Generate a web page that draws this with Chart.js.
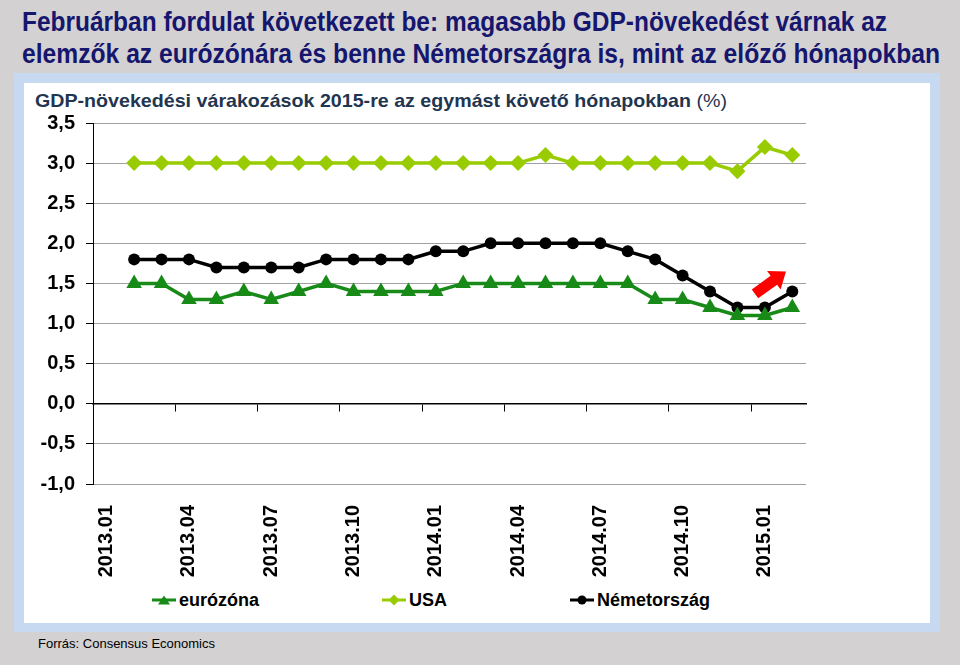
<!DOCTYPE html>
<html>
<head>
<meta charset="utf-8">
<script src="https://cdn.jsdelivr.net/npm/chart.js@4.4.1/dist/chart.umd.min.js"></script>
<style>
  html, body { margin: 0; padding: 0; }
  body { width: 960px; height: 665px; background: #d3d1d1; position: relative; overflow: hidden; font-family: "Liberation Sans", Arial, sans-serif; }
  .title { position: absolute; left: 22px; font-weight: bold; font-size: 27px; line-height: 32px; color: #15166e; white-space: nowrap; transform-origin: 0 0; font-family: "Liberation Sans Narrow", "Liberation Sans", Arial, sans-serif; }
  #frame { position: absolute; left: 14px; top: 73px; width: 926px; height: 559px; background: #c6d9f1; }
  #inner { position: absolute; left: 24px; top: 83px; width: 906px; height: 540px; background: #ffffff; }
  #subtitle { position: absolute; left: 35px; top: 90px; font-size: 19px; line-height: 22px; color: #1f3550; white-space: nowrap; transform-origin: 0 0; }
  #subtitle b { font-weight: bold; }
  #chartWrap { position: absolute; left: 24px; top: 110px; width: 906px; height: 475px; }
  #legend { position: absolute; left: 152px; top: 588px; display: flex; gap: 123px; align-items: center; font-weight: bold; font-size: 18px; line-height: 24px; color: #000; }
  .item { display: flex; align-items: center; white-space: nowrap; }
  .item svg { margin-right: 3px; }
  #source { position: absolute; left: 38px; top: 636px; font-size: 13px; line-height: 16px; color: #000; white-space: nowrap; }
</style>
</head>
<body>
<div class="title" id="t1" style="top:6px">Februárban fordulat következett be: magasabb GDP-növekedést várnak az</div>
<div class="title" id="t2" style="top:38px">elemzők az eurózónára és benne Németországra is, mint az előző hónapokban</div>
<div id="frame"></div>
<div id="inner"></div>
<div id="subtitle"><b>GDP-növekedési várakozások 2015-re az egymást követő hónapokban</b> (%)</div>
<div id="chartWrap"><canvas id="c" width="906" height="475"></canvas></div>
<div id="legend"></div>
<div id="source">Forrás: Consensus Economics</div>
<script>
// ---- data ----
const months = ['2013.01','2013.02','2013.03','2013.04','2013.05','2013.06','2013.07','2013.08','2013.09','2013.10','2013.11','2013.12',
                '2014.01','2014.02','2014.03','2014.04','2014.05','2014.06','2014.07','2014.08','2014.09','2014.10','2014.11','2014.12',
                '2015.01','2015.02'];
const eurozone = [null, 1.5,1.5,1.3,1.3,1.4,1.3,1.4,1.5,1.4,1.4,1.4,1.4,1.5,1.5,1.5,1.5,1.5,1.5,1.5,1.3,1.3,1.2,1.1,1.1,1.2];
const usa      = [null, 3.0,3.0,3.0,3.0,3.0,3.0,3.0,3.0,3.0,3.0,3.0,3.0,3.0,3.0,3.0,3.1,3.0,3.0,3.0,3.0,3.0,3.0,2.9,3.2,3.1];
const germany  = [null, 1.8,1.8,1.8,1.7,1.7,1.7,1.7,1.8,1.8,1.8,1.8,1.9,1.9,2.0,2.0,2.0,2.0,2.0,1.9,1.8,1.6,1.4,1.2,1.2,1.4];
const seriesNames = ['eurózóna', 'USA', 'Németország'];
const yTicks = [-1.0, -0.5, 0.0, 0.5, 1.0, 1.5, 2.0, 2.5, 3.0, 3.5];
// red arrow annotation (category index, value)
const arrowFrom = [23.64, 1.37];
const arrowTo   = [24.77, 1.65];

const colors = ['#178a17', '#99cc00', '#000000'];
const pointStyles = ['triangle', 'rectRot', 'circle'];
const radii = [9, 8, 6];

// fit title widths
function fitWidth(id, w) {
  const el = document.getElementById(id);
  const cur = el.getBoundingClientRect().width;
  el.style.transform = 'scaleX(' + (w / cur) + ')';
}
fitWidth('t1', 865);
fitWidth('t2', 918);
fitWidth('subtitle', 692);

const arrowPlugin = {
  id: 'arrowPlugin',
  afterDatasetsDraw(chart) {
    const xs = chart.scales.x, ys = chart.scales.y;
    const x0 = xs.getPixelForValue(arrowFrom[0]), y0 = ys.getPixelForValue(arrowFrom[1]);
    const x1 = xs.getPixelForValue(arrowTo[0]), y1 = ys.getPixelForValue(arrowTo[1]);
    const len = Math.hypot(x1 - x0, y1 - y0);
    const ang = Math.atan2(y1 - y0, x1 - x0);
    const ctx = chart.ctx;
    const sw = 5.5, hw = 11.5, hl = 15;
    ctx.save();
    ctx.translate(x0, y0);
    ctx.rotate(ang);
    ctx.beginPath();
    ctx.moveTo(0, -sw);
    ctx.lineTo(len - hl, -sw);
    ctx.lineTo(len - hl, -hw);
    ctx.lineTo(len, 0);
    ctx.lineTo(len - hl, hw);
    ctx.lineTo(len - hl, sw);
    ctx.lineTo(0, sw);
    ctx.closePath();
    ctx.fillStyle = '#ff0000';
    ctx.fill();
    ctx.restore();
  }
};

const dataSets = [eurozone, usa, germany].map((d, i) => ({
  label: seriesNames[i],
  data: d,
  borderColor: colors[i],
  backgroundColor: colors[i],
  borderWidth: 3.5,
  pointStyle: pointStyles[i],
  pointRadius: radii[i],
  pointBorderWidth: 0,
  pointBackgroundColor: colors[i],
  tension: 0,
  xAxisID: 'x',
  yAxisID: 'y'
}));

new Chart(document.getElementById('c'), {
  type: 'line',
  data: { labels: months, datasets: dataSets },
  plugins: [arrowPlugin],
  options: {
    responsive: false,
    animation: false,
    layout: { padding: { left: 7, top: 13, right: 124, bottom: 0 } },
    plugins: { legend: { display: false }, tooltip: { enabled: false } },
    scales: {
      x: {
        type: 'category',
        position: 'bottom',
        offset: true,
        grid: { display: false },
        border: { display: false },
        ticks: {
          autoSkip: false,
          minRotation: 90,
          maxRotation: 90,
          padding: 13,
          color: '#000',
          font: { family: '"Liberation Sans", Arial, sans-serif', size: 20, weight: 'bold' },
          callback: (v, i) => (i % 3 === 0 ? months[i] : '')
        },
        afterFit: (s) => { s.height = 101; }
      },
      x2: {
        type: 'category',
        labels: months,
        position: { y: 0 },
        offset: true,
        grid: {
          offset: true,
          drawOnChartArea: false,
          drawTicks: true,
          tickLength: 7,
          color: '#000',
          tickColor: '#000',
          lineWidth: (c) => (c.index % 3 === 0 ? 1 : 0),
          tickWidth: (c) => (c.index % 3 === 0 ? 1 : 0)
        },
        border: { display: true, color: '#000', width: 1.5 },
        ticks: { display: false, autoSkip: false },
        afterFit: (s) => { s.height = 0; }
      },
      y: {
        min: -1,
        max: 3.5,
        afterBuildTicks: (s) => { s.ticks = yTicks.map(v => ({ value: v })); },
        grid: {
          color: '#a0a0a0',
          lineWidth: 1,
          borderDash: [2, 2],
          drawTicks: true,
          tickLength: 7,
          tickColor: '#000',
          tickBorderDash: [],
          tickWidth: 1
        },
        border: { display: true, color: '#000', width: 1 },
        ticks: {
          padding: 11,
          color: '#000',
          font: { family: '"Liberation Sans", Arial, sans-serif', size: 20, weight: 'bold' },
          callback: (v) => Number(v).toFixed(1).replace('.', ',')
        },
        afterFit: (s) => { s.width = 62; s.paddingTop = 0; s.paddingBottom = 0; }
      }
    }
  }
});

// legend built from the datasets
const legend = document.getElementById('legend');
seriesNames.forEach((name, i) => {
  const c = colors[i];
  let marker = '';
  if (pointStyles[i] === 'triangle') marker = '<polygon points="12,1.5 18,10.5 6,10.5" fill="' + c + '"/>';
  else if (pointStyles[i] === 'rectRot') marker = '<polygon points="12,0.5 17.5,6 12,11.5 6.5,6" fill="' + c + '"/>';
  else marker = '<circle cx="12" cy="6" r="4.5" fill="' + c + '"/>';
  const item = document.createElement('div');
  item.className = 'item';
  item.innerHTML = '<svg width="24" height="12" viewBox="0 0 24 12"><line x1="0" y1="6" x2="24" y2="6" stroke="' + c + '" stroke-width="3"/>' + marker + '</svg><span>' + name + '</span>';
  legend.appendChild(item);
});
</script>
</body>
</html>
